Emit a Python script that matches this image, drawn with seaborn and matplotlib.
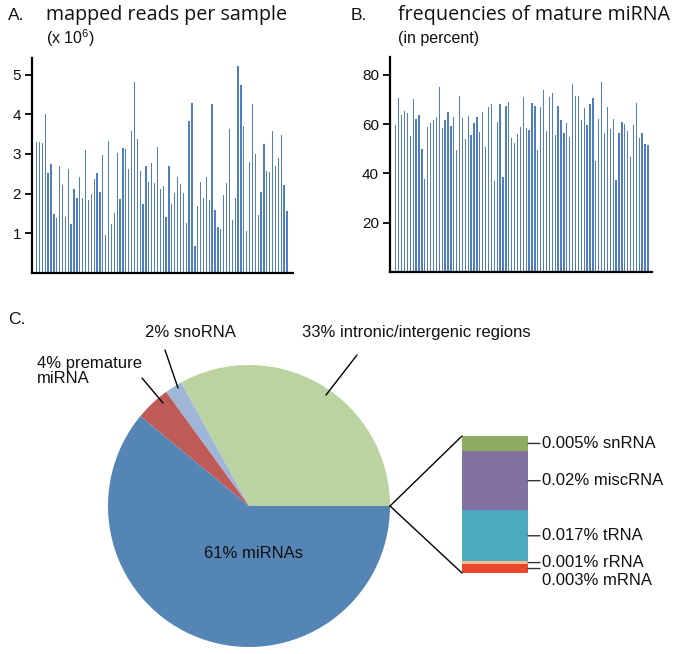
import numpy as np
import pandas as pd
import matplotlib
matplotlib.use("Agg")
import matplotlib.pyplot as plt
import seaborn as sns

# ---------------- data ----------------
mapped_reads = [3.30, 3.30, 3.27, 4.00, 2.52, 2.76, 1.48, 1.38, 2.69, 2.23,
                1.40, 2.61, 1.23, 2.11, 1.89, 2.41, 1.90, 3.11, 1.84, 1.99,
                2.38, 2.51, 2.03, 2.97, 0.96, 3.34, 1.23, 1.50, 3.03, 1.86,
                3.14, 3.12, 2.62, 3.57, 4.82, 3.38, 2.57, 1.73, 2.69, 2.29,
                2.77, 2.26, 3.17, 2.11, 2.19, 1.40, 2.71, 1.75, 2.02, 2.42,
                2.25, 2.02, 1.27, 3.82, 4.29, 0.68, 1.69, 2.30, 1.88, 2.42,
                1.84, 4.27, 1.58, 1.15, 1.10, 1.96, 2.27, 3.64, 1.33, 1.90,
                5.22, 4.73, 3.70, 1.06, 2.79, 4.25, 3.00, 1.46, 2.05, 3.24,
                2.58, 2.55, 3.57, 2.70, 2.89, 3.48, 2.21, 1.56]

mature_freq = [59.5, 70.5, 63.8, 65.5, 64.6, 55.4, 70.4, 62.3, 63.6, 50.1,
               37.9, 58.8, 60.5, 61.7, 63.0, 75.2, 58.5, 61.9, 65.1, 59.3,
               63.0, 49.6, 71.3, 62.4, 54.2, 63.2, 55.8, 60.3, 63.0, 56.7,
               65.0, 50.9, 66.8, 68.1, 37.1, 61.0, 68.4, 38.6, 67.6, 69.1,
               54.6, 52.4, 56.2, 58.8, 71.1, 58.6, 57.8, 68.5, 67.3, 49.7,
               66.8, 74.1, 57.4, 71.1, 72.7, 55.6, 67.3, 61.7, 56.5, 60.7,
               55.0, 76.4, 71.4, 71.5, 61.9, 66.6, 59.8, 68.3, 70.6, 45.1,
               62.1, 77.0, 56.3, 66.8, 58.2, 62.3, 37.2, 56.5, 61.0, 60.1,
               57.4, 46.7, 59.7, 68.6, 54.3, 56.6, 52.1, 51.4]

pie_labels = ["33% intronic/intergenic regions", "2% snoRNA",
              "4% premature\nmiRNA", "61% miRNAs"]
pie_values = [33, 2, 4, 61]
pie_colors = ["#bad3a0", "#9fb6d9", "#bf5b57", "#5585b5"]

other_names = ["0.003% mRNA", "0.001% rRNA", "0.017% tRNA",
               "0.02% miscRNA", "0.005% snRNA"]
other_values = [0.003, 0.001, 0.017, 0.020, 0.005]
other_colors = ["#e9472b", "#f6c08e", "#4baabd", "#8172a2", "#8eac62"]

a_yticks = [1, 2, 3, 4, 5]
b_yticks = [20, 40, 60, 80]

# ---------------- style ----------------
sns.set_theme(style="ticks")
plt.rcParams["font.family"] = ["Liberation Sans", "DejaVu Sans"]
plt.rcParams["text.color"] = "#111111"
plt.rcParams["mathtext.fontset"] = "custom"
plt.rcParams["mathtext.rm"] = "Liberation Sans"
plt.rcParams["mathtext.it"] = "Liberation Sans"

W, H = 685, 654
fig = plt.figure(figsize=(W / 100, H / 100), dpi=100)


def fbox(x0, y0, x1, y1):
    return [x0 / W, 1 - y1 / H, (x1 - x0) / W, (y1 - y0) / H]


bar_color = "#4f7fc0"


def bar_panel(rect, values, yticks, ylim, xlim):
    ax = fig.add_axes(rect)
    df = pd.DataFrame({"sample": list(range(len(values))), "value": values})
    sns.barplot(data=df, x="sample", y="value", color=bar_color,
                width=0.45, saturation=1, ax=ax, linewidth=0)
    ax.set_xlim(*xlim)
    ax.set_ylim(*ylim)
    ax.set_xticks([])
    ax.set_yticks(yticks)
    ax.set_xlabel("")
    ax.set_ylabel("")
    for s in ["top", "right"]:
        ax.spines[s].set_visible(False)
    for s in ["left", "bottom"]:
        ax.spines[s].set_color("black")
        ax.spines[s].set_linewidth(1.6)
    ax.tick_params(axis="y", length=5, width=1.3, color="black",
                   labelsize=11, labelcolor="#111111", pad=3)
    return ax


axA = bar_panel(fbox(32, 58, 293, 273), mapped_reads, a_yticks,
                (0, 5.42), (-1.6, 89.1))
axB = bar_panel(fbox(390, 57, 652, 272), mature_freq, b_yticks,
                (0, 87.3), (-2.0, 88.4))

# ---------------- titles ----------------
title_font = ["Open Sans", "DejaVu Sans"]
fig.text(8 / W, 1 - 16 / H, "A.", fontsize=12.5, va="center", ha="left")
fig.text(46 / W, 1 - 15 / H, "mapped reads per sample", fontsize=14.2,
         family=title_font, va="center", ha="left")
fig.text(46 / W, 1 - 38 / H, "(x 10$^{6}$)", fontsize=11.5,
         va="center", ha="left")

fig.text(351 / W, 1 - 16 / H, "B.", fontsize=12.5, va="center", ha="left")
fig.text(398 / W, 1 - 15 / H, "frequencies of mature miRNA", fontsize=14.2,
         family=title_font, va="center", ha="left")
fig.text(398 / W, 1 - 38 / H, "(in percent)", fontsize=11.5,
         va="center", ha="left")

fig.text(8 / W, 1 - 320 / H, "C.", fontsize=12.5, va="center", ha="left")

# ---------------- pie ----------------
axP = fig.add_axes(fbox(108, 365, 390, 647))
wedges, _ = axP.pie(pie_values, colors=pie_colors, startangle=0,
                    counterclock=True, radius=1,
                    wedgeprops=dict(linewidth=0))
axP.set_xlim(-1, 1)
axP.set_ylim(-1, 1)
axP.set_aspect("equal")
axP.axis("off")


def fig_line(p0, p1, color="black", lw=1.0):
    fig.add_artist(plt.Line2D([p0[0] / W, p1[0] / W],
                              [1 - p0[1] / H, 1 - p1[1] / H],
                              color=color, lw=lw))


fig.text(302 / W, 1 - 333 / H, pie_labels[0], fontsize=12,
         va="center", ha="left")
fig_line((357, 355), (326, 395))
fig.text(145 / W, 1 - 333 / H, pie_labels[1], fontsize=12,
         va="center", ha="left")
fig_line((165, 350), (178, 388))
fig.text(37 / W, 1 - 371 / H, pie_labels[2], fontsize=12,
         va="center", ha="left", linespacing=1.05)
fig_line((142, 378), (163, 403))
fig.text(253 / W, 1 - 553 / H, pie_labels[3], fontsize=12,
         va="center", ha="center")

# ---------------- stacked bar of remaining classes ----------------
axS = fig.add_axes(fbox(462, 436, 528, 573))
bottom = 0.0
mids = []
for v, c in zip(other_values, other_colors):
    axS.bar(0, v, bottom=bottom, width=1.0, color=c, linewidth=0)
    mids.append(bottom + v / 2)
    bottom += v
axS.set_xlim(-0.5, 0.5)
axS.set_ylim(0, bottom)
axS.axis("off")

offsets = [-12, 0, 0, 0, 0]
for name, m, off in zip(other_names, mids, offsets):
    axS.annotate("", xy=(0.5, m), xycoords="data",
                 xytext=(12, 0), textcoords="offset pixels",
                 arrowprops=dict(arrowstyle="-", color="#333333", lw=1.0,
                                 shrinkA=0, shrinkB=0))
    axS.annotate(name, xy=(0.5, m), xycoords="data",
                 xytext=(14, off), textcoords="offset pixels",
                 fontsize=12, va="center", ha="left", annotation_clip=False)

fig_line((390, 506), (462, 436))
fig_line((390, 506), (462, 573))

fig.savefig("out.png", dpi=100)
